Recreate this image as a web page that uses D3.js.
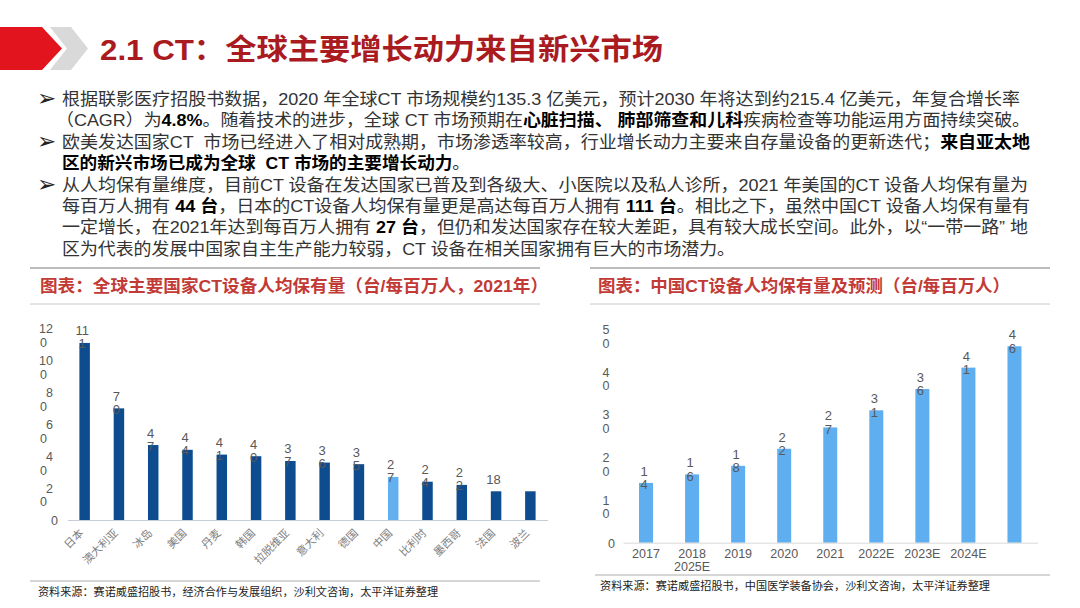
<!DOCTYPE html>
<html>
<head>
<meta charset="utf-8">
<script src="https://cdn.jsdelivr.net/npm/d3@7"></script>
<style>
  body { margin: 0; background: #fff; }
  text { font-family: "Liberation Sans", "Noto Sans CJK SC", "DejaVu Sans", sans-serif; }
</style>
</head>
<body>
<script>
const countries = ["日本", "澳大利亚", "冰岛", "美国", "丹麦", "韩国", "拉脱维亚", "意大利", "德国", "中国", "比利时", "墨西哥", "法国", "波兰"];
const countryValues = [111, 70, 47, 44, 41, 40, 37, 36, 35, 27, 24, 22, 18, 18];
const highlightCountry = "中国";
const hiddenLabels = ["波兰"];
const leftTicks = [0, 20, 40, 60, 80, 100, 120];

const years = ["2017", "2018", "2019", "2020", "2021", "2022E", "2023E", "2024E", "2025E"];
const yearValues = [14, 16, 18, 22, 27, 31, 36, 41, 46];
const rightTicks = [0, 10, 20, 30, 40, 50];

const TITLE = "2.1 CT：全球主要增长动力来自新兴市场";
const LEFT_TITLE = "图表：全球主要国家CT设备人均保有量（台/每百万人，2021年）";
const RIGHT_TITLE = "图表：中国CT设备人均保有量及预测（台/每百万人）";
const LEFT_SOURCE = "资料来源：赛诺威盛招股书，经济合作与发展组织，沙利文咨询，太平洋证券整理";
const RIGHT_SOURCE = "资料来源：赛诺威盛招股书，中国医学装备协会，沙利文咨询，太平洋证券整理";

// [segments, bullet?, start x, end x]
const bodyLines = [
  [[["根据联影医疗招股书数据，2020 年全球CT 市场规模约135.3 亿美元，预计2030 年将达到约215.4 亿美元，年复合增长率", 0]], true, 62, 1020],
  [[["（CAGR）为", 0], ["4.8%", 1], ["。随着技术的进步，全球 CT 市场预期在", 0], ["心脏扫描、 肺部筛查和儿科", 1], ["疾病检查等功能运用方面持续突破。", 0]], false, 56, 1030],
  [[["欧美发达国家CT  市场已经进入了相对成熟期，市场渗透率较高，行业增长动力主要来自存量设备的更新迭代；", 0], ["来自亚太地", 1]], true, 62, 1030],
  [[["区的新兴市场已成为全球  CT 市场的主要增长动力", 1], ["。", 0]], false, 62, 470],
  [[["从人均保有量维度，目前CT 设备在发达国家已普及到各级大、小医院以及私人诊所，2021 年美国的CT 设备人均保有量为", 0]], true, 62, 1028],
  [[["每百万人拥有 ", 0], ["44 台", 1], ["，日本的CT设备人均保有量更是高达每百万人拥有 ", 0], ["111 台", 1], ["。相比之下，虽然中国CT 设备人均保有量有", 0]], false, 62, 1030],
  [[["一定增长，在2021年达到每百万人拥有 ", 0], ["27 台", 1], ["，但仍和发达国家存在较大差距，具有较大成长空间。此外，以“一带一路” 地", 0]], false, 62, 1028],
  [[["区为代表的发展中国家自主生产能力较弱，CT 设备在相关国家拥有巨大的市场潜力。", 0]], false, 62, 735]
];

const svg = d3.select("body").append("svg").attr("width", 1080).attr("height", 608);

// header
svg.append("polygon").attr("points", "0,27 42,27 62,48.5 42,70 0,70").attr("fill", "#E2141D");
svg.append("polygon").attr("points", "50,27 71,27 88,48.5 71,70 50,70 67,48.5").attr("fill", "#D9D9D9");
svg.append("text").attr("x", 100).attr("y", 60)
  .attr("font-size", 29).attr("font-weight", "bold").attr("fill", "#A91B1F")
  .attr("textLength", 563).attr("lengthAdjust", "spacingAndGlyphs")
  .text(TITLE);

// body text
bodyLines.forEach(([segs, bullet, x0, x1], i) => {
  const y = 105 + i * 21.4;
  if (bullet) {
    svg.append("text").attr("x", 37).attr("y", y + 1).attr("font-size", 23)
      .attr("fill", "#222").style("font-family", "DejaVu Sans").text("➢");
  }
  const t = svg.append("text").attr("x", x0).attr("y", y).attr("font-size", 17)
    .style("white-space", "pre")
    .attr("textLength", x1 - x0).attr("lengthAdjust", "spacingAndGlyphs");
  segs.forEach(([s, b]) => {
    t.append("tspan").attr("font-weight", b ? "bold" : "normal")
      .attr("fill", b ? "#000" : "#333").text(s);
  });
});

// chart title bars
function titleBlock(x0, x1, tx, tw, label) {
  svg.append("line").attr("x1", x0).attr("x2", x1).attr("y1", 268).attr("y2", 268)
    .attr("stroke", "#BDBDBD").attr("stroke-width", 2);
  svg.append("line").attr("x1", x0).attr("x2", x1).attr("y1", 304).attr("y2", 304)
    .attr("stroke", "#C8C8C8").attr("stroke-width", 1);
  svg.append("text").attr("x", tx).attr("y", 292).attr("font-size", 17)
    .attr("font-weight", "bold").attr("fill", "#C23A36")
    .attr("textLength", tw).attr("lengthAdjust", "spacingAndGlyphs").text(label);
}
titleBlock(30, 540, 40, 508, LEFT_TITLE);
titleBlock(590, 1050, 598, 412, RIGHT_TITLE);

function sourceBlock(x0, x1, ly, tx, tw, label) {
  svg.append("line").attr("x1", x0).attr("x2", x1).attr("y1", ly).attr("y2", ly)
    .attr("stroke", "#C8C8C8").attr("stroke-width", 1.5);
  svg.append("text").attr("x", tx).attr("y", ly + 15).attr("font-size", 11)
    .attr("fill", "#222").attr("textLength", tw).attr("lengthAdjust", "spacingAndGlyphs")
    .text(label);
}
sourceBlock(30, 540, 581, 38, 400, LEFT_SOURCE);
sourceBlock(595, 1050, 575, 600, 390, RIGHT_SOURCE);

// ---------- left chart ----------
const xL = d3.scaleBand().domain(countries).range([67.5, 547.5])
  .paddingInner(0.694).paddingOuter(0.347);
const yL = d3.scaleLinear().domain([0, 120]).range([520, 328.6]);

const gL = svg.append("g");
gL.append("g").attr("class", "yAxisL")
  .call(d3.axisLeft(yL).tickValues(leftTicks).tickSize(0))
  .call(g => g.select(".domain").remove())
  .selectAll(".tick text").each(function (d) {
    const t = d3.select(this).text(null).attr("x", null).attr("dy", null)
      .attr("font-size", 12.5).attr("fill", "#595959")
      .style("font-family", "Liberation Sans");
    const s = String(d);
    if (s.length === 1) {
      t.append("tspan").attr("x", 58).attr("dy", "0.35em").attr("text-anchor", "end").text(s);
    } else {
      t.append("tspan").attr("x", 53).attr("dy", "0.35em").attr("text-anchor", "end").text(s.slice(0, -1));
      t.append("tspan").attr("x", 40).attr("dy", 13.5).attr("text-anchor", "start").text(s.slice(-1));
    }
  });

gL.append("g").selectAll("rect").data(countries).join("rect")
  .attr("x", d => xL(d))
  .attr("y", (d, i) => yL(countryValues[i]))
  .attr("width", xL.bandwidth())
  .attr("height", (d, i) => yL(0) - yL(countryValues[i]))
  .attr("fill", d => d === highlightCountry ? "#63B0F0" : "#0D4C8F");

gL.append("g").attr("transform", "translate(0,520)")
  .call(d3.axisBottom(xL).tickSize(0).tickSizeOuter(0))
  .call(g => g.select(".domain").attr("stroke", "#C5CCD6"))
  .selectAll(".tick text")
  .attr("x", 0).attr("y", 0).attr("dy", "0.35em")
  .attr("text-anchor", "end")
  .attr("transform", "translate(-3,11) rotate(-45)")
  .attr("font-size", 11).attr("fill", "#808080")
  .style("font-family", "Noto Sans CJK SC");

// labels wrap in a narrow box: 3 digits -> 2+1, two digits split unless it starts with 1
function leftLines(v) {
  const s = String(v);
  if (s.length === 3) return [s.slice(0, 2), s.slice(2)];
  if (s[0] === "1") return [s];
  return s.split("");
}

gL.append("g").selectAll("text").data(countries.filter(c => !hiddenLabels.includes(c))).join("text")
  .attr("font-size", 13).attr("fill", "#595959").attr("text-anchor", "middle")
  .style("font-family", "Liberation Sans")
  .each(function (d) {
    const v = countryValues[countries.indexOf(d)];
    const cx = xL(d) + xL.bandwidth() / 2 - 2.5;
    const top = yL(v);
    leftLines(v).forEach((ln, k) => {
      d3.select(this).append("tspan").attr("x", cx).attr("y", top - 7.5 + k * 13).text(ln);
    });
  });

// ---------- right chart ----------
const xR = d3.scaleBand().domain(years).range([623, 1037.5])
  .paddingInner(0.696).paddingOuter(0.348);
const yR = d3.scaleLinear().domain([0, 50]).range([542.7, 329.2]);

const gR = svg.append("g");
gR.append("g")
  .call(d3.axisLeft(yR).tickValues(rightTicks).tickSize(0))
  .call(g => g.select(".domain").remove())
  .selectAll(".tick text").each(function (d) {
    const t = d3.select(this).text(null).attr("x", null).attr("dy", null)
      .attr("font-size", 12.5).attr("fill", "#595959")
      .style("font-family", "Liberation Sans");
    const s = String(d);
    if (s.length === 1) {
      t.append("tspan").attr("x", 608).attr("dy", "0.35em").attr("text-anchor", "start").text(s);
    } else {
      t.append("tspan").attr("x", 602.5).attr("dy", "0.35em").attr("text-anchor", "start").text(s.slice(0, -1));
      t.append("tspan").attr("x", 602.5).attr("dy", 13.5).attr("text-anchor", "start").text(s.slice(-1));
    }
  });

gR.append("g").selectAll("rect").data(years).join("rect")
  .attr("x", d => xR(d))
  .attr("y", (d, i) => yR(yearValues[i]))
  .attr("width", xR.bandwidth())
  .attr("height", (d, i) => yR(0) - yR(yearValues[i]))
  .attr("fill", "#5FAEEF");

const lastYear = years[years.length - 1];
gR.append("g").attr("transform", "translate(0,542.7)")
  .call(d3.axisBottom(xR).tickSize(0).tickSizeOuter(0))
  .call(g => g.select(".domain").attr("stroke", "#D9D9D9"))
  .selectAll(".tick text")
  .attr("y", 6).attr("dy", "0.71em")
  .attr("font-size", 12.5).attr("fill", "#595959")
  .style("font-family", "Liberation Sans")
  .attr("transform", d => d === lastYear
    ? "translate(" + (xR(years[1]) - xR(lastYear)) + ",13)" : null);

gR.append("g").selectAll("text").data(years).join("text")
  .attr("font-size", 13).attr("fill", "#595959").attr("text-anchor", "middle")
  .style("font-family", "Liberation Sans")
  .each(function (d, i) {
    const cx = xR(d) + xR.bandwidth() / 2 - 2;
    const top = yR(yearValues[i]);
    String(yearValues[i]).split("").forEach((ln, k) => {
      d3.select(this).append("tspan").attr("x", cx).attr("y", top - 7 + k * 13.5).text(ln);
    });
  });
</script>
</body>
</html>
